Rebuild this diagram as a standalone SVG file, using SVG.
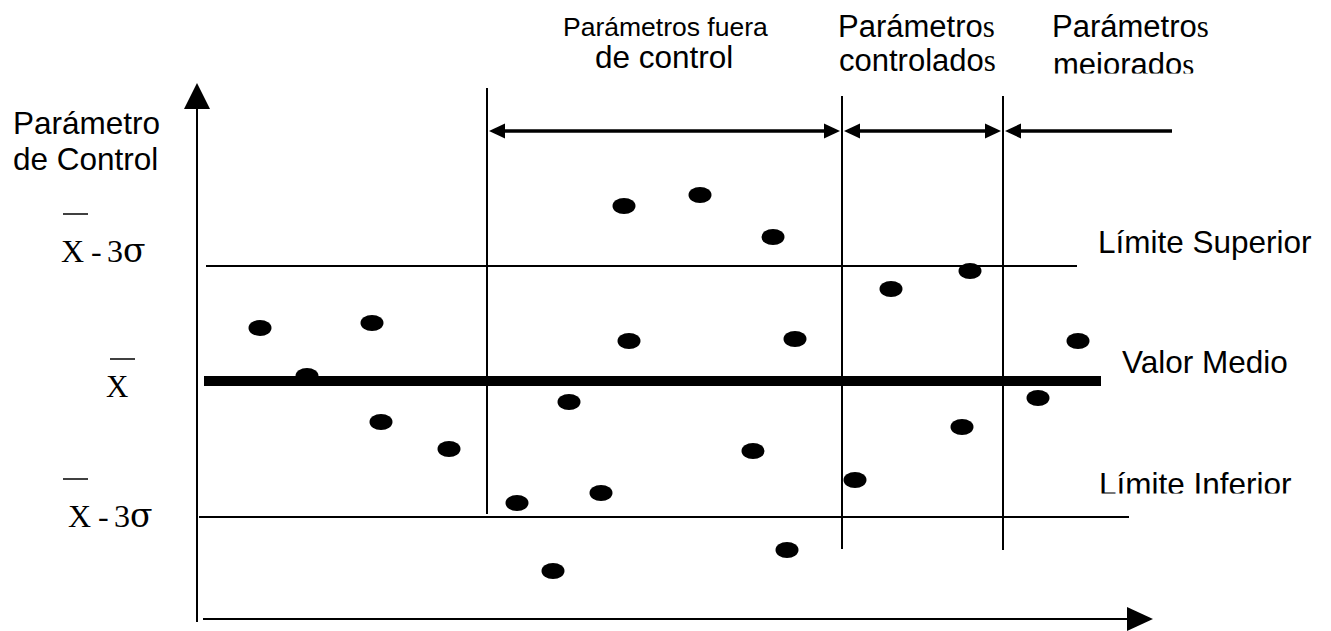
<svg xmlns="http://www.w3.org/2000/svg" width="1331" height="631" viewBox="0 0 1331 631">
<style>
.sans{font-family:"Liberation Sans",Arial,sans-serif;fill:#000}
.serif{font-family:"Liberation Serif","Times New Roman",serif;fill:#000}
.sig{font-family:"DejaVu Serif","Liberation Serif",serif;font-size:33px}
.ln{stroke:#000;stroke-width:2;fill:none}
.arr{stroke:#000;stroke-width:3.5;fill:none}
.dot{fill:#000}
.bar{stroke:#000;stroke-width:1.5}
</style>
<defs>
<clipPath id="clipMej"><rect x="1040" y="40" width="200" height="33.5"/></clipPath>
<clipPath id="clipInf"><rect x="1090" y="460" width="230" height="33.5"/></clipPath>
</defs>
<rect width="1331" height="631" fill="#fff"/>

<g id="axes">
<line class="ln" x1="197" y1="105" x2="197" y2="622"/>
<polygon points="197,83 184,109 210,109"/>
<line class="ln" x1="203" y1="619" x2="1130" y2="619"/>
<polygon points="1153,619 1127,607 1127,631"/>
</g>

<g id="dots-under">
<ellipse class="dot" cx="307" cy="376" rx="11.5" ry="8"/>
</g>

<g id="connectors">
<line class="ln" x1="206" y1="266" x2="1077" y2="266"/>
<line x1="204" y1="381" x2="1101" y2="381" stroke="#000" stroke-width="10"/>
<line class="ln" x1="199" y1="517" x2="1129" y2="517"/>
<line class="ln" x1="487" y1="88" x2="487" y2="514"/>
<line class="ln" x1="842" y1="96" x2="842" y2="549"/>
<line class="ln" x1="1003" y1="96" x2="1003" y2="550"/>
<line class="arr" x1="500" y1="131" x2="828" y2="131"/>
<polygon points="489,131 505,123.5 505,138.5"/>
<polygon points="840,131 824,123.5 824,138.5"/>
<line class="arr" x1="856" y1="131" x2="990" y2="131"/>
<polygon points="844,131 860,123.5 860,138.5"/>
<polygon points="1001,131 985,123.5 985,138.5"/>
<line class="arr" x1="1016" y1="131" x2="1172" y2="131"/>
<polygon points="1005,131 1021,123.5 1021,138.5"/>
</g>

<g id="dots">
<ellipse class="dot" cx="260" cy="328" rx="11.5" ry="8"/>
<ellipse class="dot" cx="372" cy="323" rx="11.5" ry="8"/>
<ellipse class="dot" cx="381" cy="422" rx="11.5" ry="8"/>
<ellipse class="dot" cx="449" cy="449" rx="11.5" ry="8"/>
<ellipse class="dot" cx="624" cy="206" rx="11.5" ry="8"/>
<ellipse class="dot" cx="700" cy="195" rx="11.5" ry="8"/>
<ellipse class="dot" cx="773" cy="237" rx="11.5" ry="8"/>
<ellipse class="dot" cx="629" cy="341" rx="11.5" ry="8"/>
<ellipse class="dot" cx="795" cy="339" rx="11.5" ry="8"/>
<ellipse class="dot" cx="569" cy="402" rx="11.5" ry="8"/>
<ellipse class="dot" cx="517" cy="503" rx="11.5" ry="8"/>
<ellipse class="dot" cx="601" cy="493" rx="11.5" ry="8"/>
<ellipse class="dot" cx="753" cy="451" rx="11.5" ry="8"/>
<ellipse class="dot" cx="553" cy="571" rx="11.5" ry="8"/>
<ellipse class="dot" cx="787" cy="550" rx="11.5" ry="8"/>
<ellipse class="dot" cx="891" cy="289" rx="11.5" ry="8"/>
<ellipse class="dot" cx="970" cy="271" rx="11.5" ry="8"/>
<ellipse class="dot" cx="855" cy="480" rx="11.5" ry="8"/>
<ellipse class="dot" cx="962" cy="427" rx="11.5" ry="8"/>
<ellipse class="dot" cx="1078" cy="341" rx="11.5" ry="8"/>
<ellipse class="dot" cx="1038" cy="398" rx="11.5" ry="8"/>
</g>

<g id="label-fuera">
<text class="sans" x="563" y="36" font-size="26.5">Parámetros fuera</text>
<text class="sans" x="595" y="68" font-size="31.5">de control</text>
</g>
<g id="label-controlados">
<text class="sans" x="838" y="37" font-size="31">Parámetro<tspan class="serif">s</tspan></text>
<text class="sans" x="839" y="71" font-size="31">controlado<tspan class="serif">s</tspan></text>
</g>
<g id="label-mejorados">
<text class="sans" x="1052" y="37" font-size="31">Parámetro<tspan class="serif">s</tspan></text>
<text class="sans" x="1053" y="75" font-size="31" clip-path="url(#clipMej)">mejorado<tspan class="serif">s</tspan></text>
</g>
<g id="label-eje">
<text class="sans" x="13" y="134" font-size="31.5">Parámetro</text>
<text class="sans" x="13" y="170" font-size="31.5">de Control</text>
</g>
<g id="label-sup-math">
<line class="bar" x1="63" y1="214" x2="88" y2="214"/>
<text class="serif" x="61" y="262" font-size="32">X<tspan x="91">-</tspan><tspan x="107">3</tspan><tspan class="sig" x="123">σ</tspan></text>
</g>
<g id="label-mean-math">
<line class="bar" x1="110" y1="359" x2="135" y2="359"/>
<text class="serif" x="106" y="397" font-size="31">X</text>
</g>
<g id="label-inf-math">
<line class="bar" x1="63" y1="479" x2="88" y2="479"/>
<text class="serif" x="68" y="527" font-size="32">X<tspan x="98">-</tspan><tspan x="114">3</tspan><tspan class="sig" x="130">σ</tspan></text>
</g>
<g id="label-superior">
<text class="sans" x="1098" y="253" font-size="31.5">Límite Superior</text>
</g>
<g id="label-medio">
<text class="sans" x="1122" y="373" font-size="31.5">Valor Medio</text>
</g>
<g id="label-inferior">
<text class="sans" x="1099" y="495" font-size="31.5" clip-path="url(#clipInf)">Límite Inferior</text>
</g>
</svg>
